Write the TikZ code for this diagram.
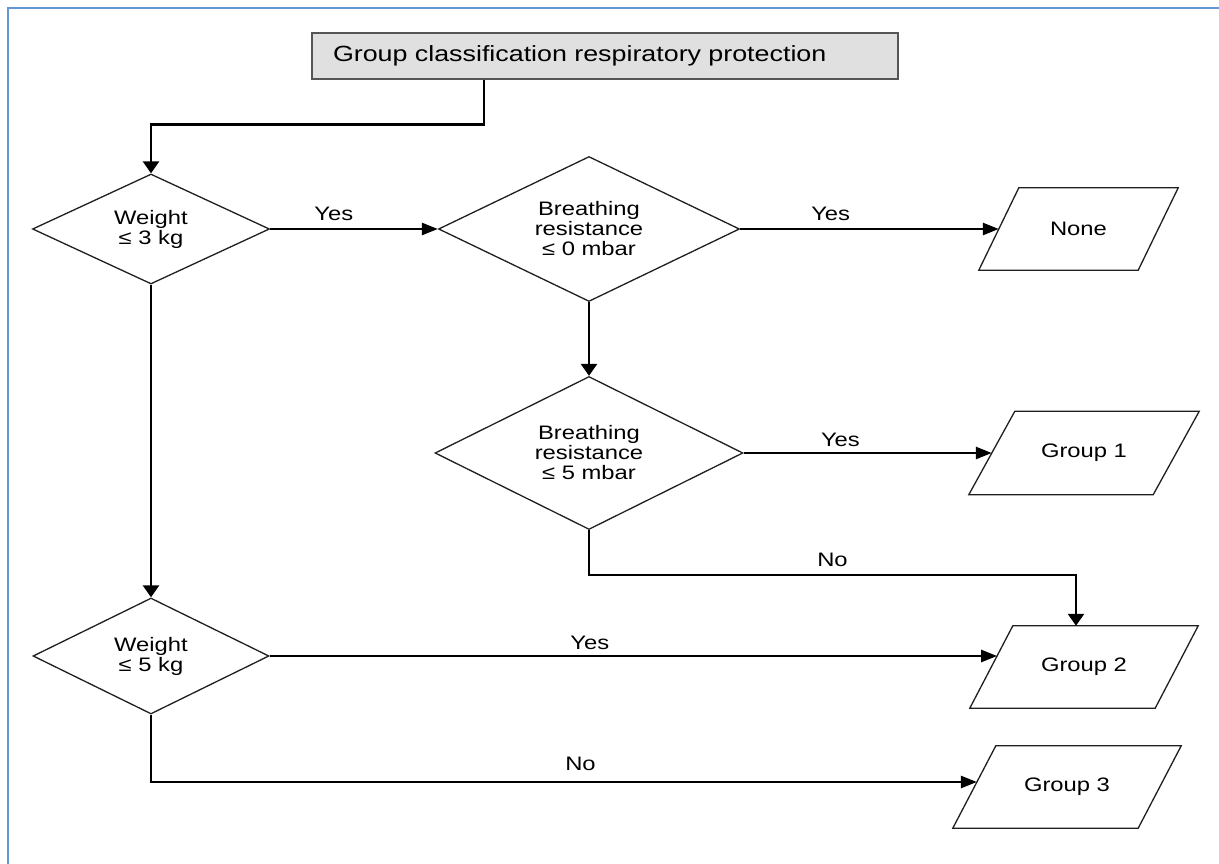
\documentclass[tikz,border=0pt]{standalone}
\usepackage{fontspec}
\setmainfont{Liberation Sans}[FakeStretch=1.22]
\usetikzlibrary{shapes.geometric,arrows.meta,calc}
\definecolor{framebl}{HTML}{6495D8}
\definecolor{titlefill}{HTML}{E0E0E0}
\definecolor{titleedge}{HTML}{555555}
\begin{document}
\begin{tikzpicture}[x=1pt,y=-1pt,
  txt/.style={font=\fontsize{19.5}{20}\selectfont},
  shapeline/.style={draw=black!88, line width=1.3pt, line join=miter},
  titlebox/.style={shapeline, draw=titleedge, fill=titlefill, minimum width=586pt, minimum height=46pt,
    text width=544pt, inner xsep=21pt, inner ysep=0pt, align=left, font=\fontsize{22}{24}\selectfont},
  decision/.style={shapeline, diamond, aspect=2, inner sep=0pt, align=center, txt},
  outbox/.style={rectangle, inner sep=0pt, txt},
  conn/.style={line width=2.6pt, line join=miter},
  harr/.style={conn, -{Triangle[length=16pt,width=12pt]}},
  varr/.style={conn, -{Triangle[length=12pt,width=16pt]}},
  lbl/.style={txt, inner sep=0pt, anchor=base}
]
\useasboundingbox (0,0) rectangle (1219,864);
\draw[framebl, line width=2pt] (8,864) -- (8,8) -- (1219,8);

\node[titlebox] (title) at (605,56) {Group classification respiratory protection};

\node[decision, minimum width=237pt, minimum height=110pt] (d1) at (151,229) {Weight\\≤ 3 kg};
\node[decision, minimum width=301pt, minimum height=145pt] (d2) at (589,229) {Breathing\\resistance\\≤ 0 mbar};
\node[decision, minimum width=308pt, minimum height=153pt] (d3) at (589,453) {Breathing\\resistance\\≤ 5 mbar};
\node[decision, minimum width=236pt, minimum height=116pt] (d4) at (151,656) {Weight\\≤ 5 kg};

\node[outbox, minimum width=159pt, minimum height=82pt] (none) at (1078.5,229) {None};
\node[outbox, minimum width=184pt, minimum height=83pt] (g1) at (1084,453) {Group 1};
\node[outbox, minimum width=185pt, minimum height=82pt] (g2) at (1084,667) {Group 2};
\node[outbox, minimum width=185pt, minimum height=82pt] (g3) at (1067,787) {Group 3};

\foreach \n/\h in {none/20,g1/23,g2/21.5,g3/21.5}{
  \draw[shapeline] ([xshift=\h]\n.north west) -- ([xshift=\h]\n.north east)
    -- ([xshift=-\h]\n.south east) -- ([xshift=-\h]\n.south west) -- cycle;
}

\draw[varr] ([xshift=-121]title.south) -- ++(0,45) -| (d1.north);
\draw[harr] (d1.east) -- node[lbl, pos=0.38, yshift=8pt] {Yes} (d2.west);
\draw[harr] (d2.east) -- node[lbl, pos=0.35, yshift=9pt] {Yes} (none.west);
\draw[varr] (d2.south) -- (d3.north);
\draw[harr] (d3.east) -- node[lbl, pos=0.39, yshift=7pt] {Yes} (g1.west);
\draw[varr] (d3.south) -- ++(0,45) -| node[lbl, pos=0.25, yshift=9pt] {No} ([xshift=-8]g2.north);
\draw[varr] (d1.south) -- (d4.north);
\draw[harr] (d4.east) -- node[lbl, pos=0.44, yshift=7pt] {Yes} ($(d4.east -| g2.west)+(5.8,0)$);
\draw[harr] (d4.south) |- node[lbl, pos=0.76, yshift=12pt] {No} ($(g3.west)+(2.6,-5)$);
\end{tikzpicture}
\end{document}
